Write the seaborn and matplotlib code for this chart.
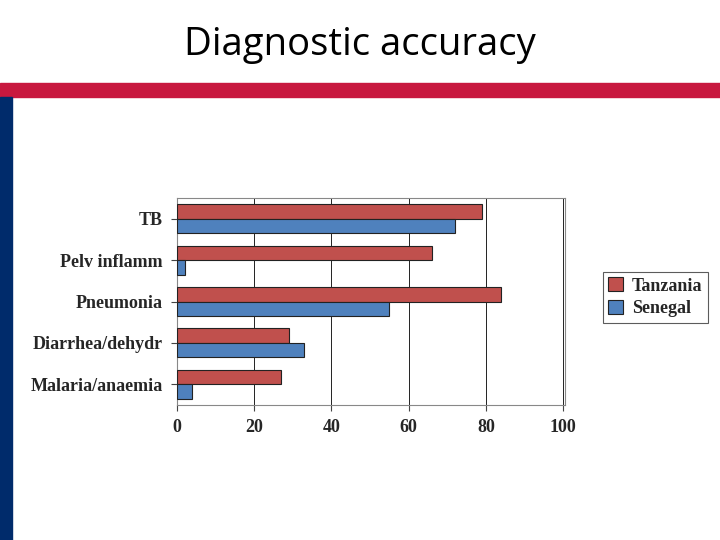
import pandas as pd
import seaborn as sns
import matplotlib.pyplot as plt
from matplotlib.patches import Rectangle

# Data
conditions = ['TB', 'Pelv inflamm', 'Pneumonia', 'Diarrhea/dehydr', 'Malaria/anaemia']
tanzania = [79, 66, 84, 29, 27]
senegal = [72, 2, 55, 33, 4]
countries = ['Tanzania', 'Senegal']
palette = {'Tanzania': '#C0504D', 'Senegal': '#4F81BD'}

df = pd.DataFrame({
    'condition': conditions * 2,
    'country': ['Tanzania'] * 5 + ['Senegal'] * 5,
    'accuracy': tanzania + senegal,
})

sns.set_style('white')
fig = plt.figure(figsize=(7.2, 5.4), dpi=100)

# slide decoration
fig.patches.append(Rectangle((0, 1 - 97/540), 1, 14/540, transform=fig.transFigure,
                             color='#C8183F', zorder=0))
fig.patches.append(Rectangle((0, 0), 12/720, 1 - 97/540, transform=fig.transFigure,
                             color='#002B6B', zorder=0))
fig.text(0.5, 1 - 45/540, 'Diagnostic accuracy', ha='center', va='center',
         fontsize=27.5, color='black', family=['Open Sans', 'DejaVu Sans'])

ax = fig.add_axes([177/720, 1 - 405/540, 388/720, 207/540])
sns.barplot(data=df, y='condition', x='accuracy', hue='country', order=conditions,
            hue_order=countries, palette=palette, orient='h', width=0.7,
            edgecolor='#222222', linewidth=0.8, saturation=1, ax=ax, zorder=3)
ax.set_xlim(0, 100.5)
ax.set_xticks(range(0, 101, 20))
ax.xaxis.grid(True, color='#222222', linewidth=0.7, zorder=0)
ax.set_xlabel('')
ax.set_ylabel('')
for s in ax.spines.values():
    s.set_color('#888888')
    s.set_linewidth(0.8)
serif = {'family': 'Liberation Serif', 'weight': 'bold', 'size': 13}
ax.set_xticklabels([str(v) for v in range(0, 101, 20)], fontdict=serif)
ax.set_yticks(range(len(conditions)))
ax.set_yticklabels(conditions, fontdict=serif)
ax.tick_params(axis='both', length=4, color='#444444', left=True, bottom=True, pad=6)

leg = ax.legend(loc='center left', bbox_to_anchor=(594/388 - 177/388, 0.52),
                frameon=True, fancybox=False, edgecolor='#333333',
                prop=serif, handlelength=0.8, handleheight=0.8, borderpad=0.3,
                handletextpad=0.5, labelspacing=0.3)
leg.get_frame().set_linewidth(0.8)

fig.savefig('out.png', dpi=100)
